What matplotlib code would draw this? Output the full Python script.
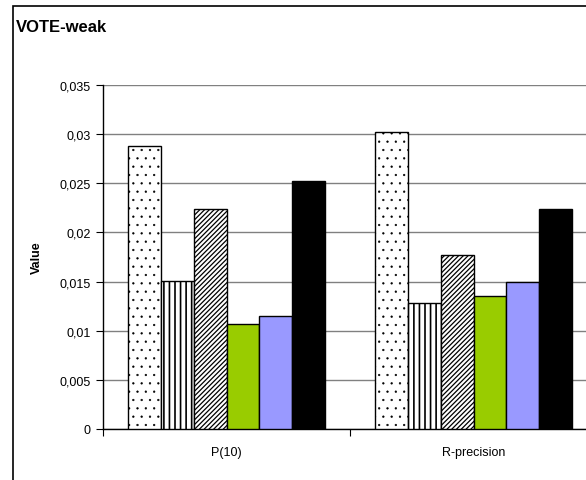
import matplotlib
matplotlib.use("Agg")
import matplotlib.pyplot as plt
from matplotlib.patches import Rectangle
import numpy as np

plt.rcParams['font.family'] = ['Liberation Sans', 'DejaVu Sans']

categories = ["P(10)", "R-precision"]
series_names = ["S1", "S2", "S3", "S4", "S5", "S6"]
values = [
    [0.0288, 0.0302],
    [0.0151, 0.0128],
    [0.0224, 0.0177],
    [0.0107, 0.0135],
    [0.0115, 0.0150],
    [0.0252, 0.0224],
]
yticks = [0, 0.005, 0.01, 0.015, 0.02, 0.025, 0.03, 0.035]
ytick_labels = ["0", "0,005", "0,01", "0,015", "0,02", "0,025", "0,03", "0,035"]

styles = [
    dict(facecolor="white", hatch="..", hlw=0.4),
    dict(facecolor="white", hatch="|||", hlw=1.2),
    dict(facecolor="white", hatch="///////", hlw=0.9),
    dict(facecolor="#99cc00", hatch=None, hlw=1.0),
    dict(facecolor="#9999ff", hatch=None, hlw=1.0),
    dict(facecolor="black", hatch=None, hlw=1.0),
]

W, H = 586, 481
fig = plt.figure(figsize=(W / 100, H / 100), dpi=100)

# chart frame (extends beyond the cropped image)
fig.patches.append(Rectangle((13 / W, -0.1), 1.2, 1 - 7 / H + 0.1,
                             transform=fig.transFigure, fill=False,
                             edgecolor="black", linewidth=1.2))
fig.text(16 / W, 1 - 28 / H, "VOTE-weak", fontsize=12, fontweight="bold",
         va="center", ha="left")

left, right, bottom, top = 103 / W, 597 / W, 1 - 430 / H, 1 - 86 / H
ax = fig.add_axes([left, bottom, right - left, top - bottom])

n = len(values)
group_w = 0.8
bw = group_w / n
x = np.arange(len(categories)) + 0.5
for i, (vals, st) in enumerate(zip(values, styles)):
    plt.rcParams['hatch.linewidth'] = st["hlw"]
    pos = x - group_w / 2 + bw * (i + 0.5)
    ax.bar(pos, vals, width=bw, facecolor=st["facecolor"], hatch=st["hatch"],
           edgecolor="black", linewidth=1.0, zorder=3)

ax.set_xlim(0, len(categories))
ax.set_ylim(0, 0.035)
ax.set_yticks(yticks)
ax.set_yticklabels(ytick_labels, fontsize=9)
ax.set_xticks(np.arange(len(categories) + 1))
ax.set_xticklabels([])
ax.set_xticks(x, minor=True)
ax.set_xticklabels(categories, minor=True, fontsize=9)
ax.tick_params(axis="x", which="minor", length=0, pad=12)
ax.tick_params(axis="x", which="major", length=5, direction="out")
ax.tick_params(axis="y", length=5, direction="out", pad=4)
ax.yaxis.grid(True, color="#808080", linewidth=1.0, zorder=0)
ax.set_axisbelow(True)
for s in ["top", "right"]:
    ax.spines[s].set_visible(False)
ax.spines["left"].set_linewidth(1.0)
ax.spines["bottom"].set_linewidth(1.0)
ax.set_ylabel("Value", fontsize=9, fontweight="bold", labelpad=12)

fig.savefig("out.png", dpi=100)
